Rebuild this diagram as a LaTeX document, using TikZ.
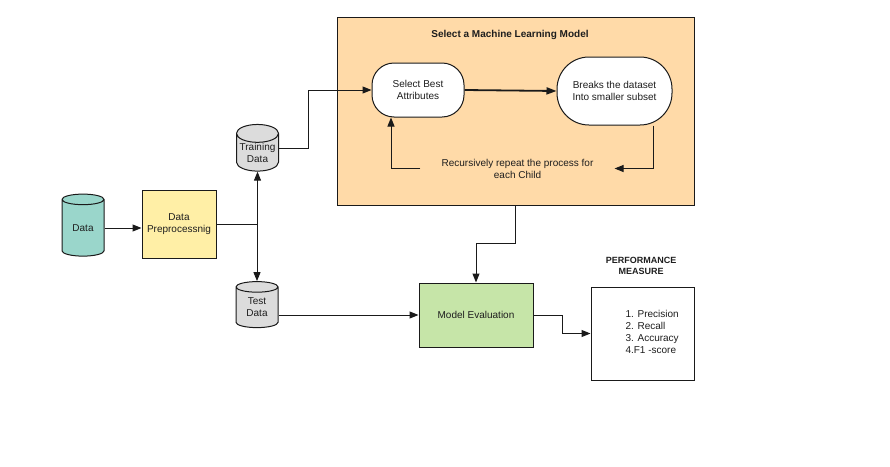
\documentclass[tikz,border=0pt]{standalone}
\usepackage{fontspec}
\setmainfont{Liberation Sans}
\usetikzlibrary{shapes.geometric,arrows.meta}
\definecolor{ink}{HTML}{1E1E1E}
\definecolor{edge}{HTML}{1A1A1A}
\definecolor{datateal}{HTML}{9AD6CB}
\definecolor{prepyellow}{HTML}{FFEFA6}
\definecolor{mlpeach}{HTML}{FFDAA8}
\definecolor{evalgreen}{HTML}{C6E5A8}
\definecolor{dbgray}{HTML}{DCDCDC}
\begin{document}
\begin{tikzpicture}[x=1pt,y=-1pt,
  every node/.style={font=\fontsize{10}{12}\selectfont, text=ink, align=center},
  box/.style={draw=edge, line width=1pt, rectangle, inner sep=0pt},
  db/.style={cylinder, shape border rotate=90, aspect=0.5, draw=edge,
    line width=1pt, minimum width=42pt, inner sep=0pt},
  pill/.style={draw=edge, line width=1pt, fill=white, rectangle, inner sep=0pt},
  conn/.style={draw=edge, line width=1pt, -{Triangle[length=9pt,width=7pt]}},
  plain/.style={draw=edge, line width=1pt}]
\useasboundingbox (0,0) rectangle (890,466);

% data sources and preprocessing
\node[db, fill=datateal, minimum height=62pt] (data) at (83,228) {Data};
\node[box, fill=prepyellow, minimum width=74pt, minimum height=68pt] (prep) at (179,224) {Data\\Preprocessnig};
\node[db, fill=dbgray, minimum height=46pt] (train) at (257.5,152.5) {Training\\Data};
\node[db, fill=dbgray, minimum height=46pt] (test) at (257,307.5) {Test\\Data};

% model selection block
\node[box, fill=mlpeach, minimum width=357pt, minimum height=188pt] (ml) at (515.5,111) {};
\node[font=\bfseries\fontsize{10}{12}\selectfont] (mltitle) at (510,35) {Select a Machine Learning Model};
\node[pill, rounded corners=22pt, minimum width=92pt, minimum height=54pt] (select) at (418,90) {Select Best\\Attributes};
\node[pill, rounded corners=32pt, minimum width=115pt, minimum height=68pt] (split) at (614.5,91) {Breaks the dataset\\Into smaller subset};
\node[inner xsep=21pt, inner ysep=0pt] (recur) at (517.5,168.5) {Recursively repeat the process for\\each Child};

% evaluation
\node[box, fill=evalgreen, minimum width=114pt, minimum height=64pt] (eval) at (476,315) {Model Evaluation};
\node[box, fill=white, minimum width=103pt, minimum height=93pt] (perf) at (642.5,333.5) {};
\node[align=left, anchor=west, font=\fontsize{10}{12.2}\selectfont] (metrics) at (622,332)
  {1. Precision\\2. Recall\\3. Accuracy\\4.F1 -score};
\node[font=\bfseries\fontsize{9}{11}\selectfont] (perftitle) at (641,265.5) {PERFORMANCE\\MEASURE};

% connectors
\draw[conn] (data.east) -- (data.east -| prep.west);
\draw[conn] (prep.east) -| (train.south);
\draw[conn] (prep.east) -| (test.north);
\draw[conn] ([yshift=4pt]train.east) -- ++(29,0) |- (select.west);
\draw[conn, line width=1.8pt, -{Triangle[length=10pt,width=7pt]}] (select.east) -- (split.west);
\draw[conn] ([xshift=38.5pt]split.south) |- (recur.east);
\draw[conn] (recur.west) -| ([xshift=-27pt]select.south);
\draw[conn] (ml.south) -- ++(0,38) -| (eval.north);
\draw[conn] (test.east |- eval.west) -- (eval.west);
\draw[conn] (eval.east) -- ++(29,0) |- (perf.west);
\end{tikzpicture}
\end{document}
